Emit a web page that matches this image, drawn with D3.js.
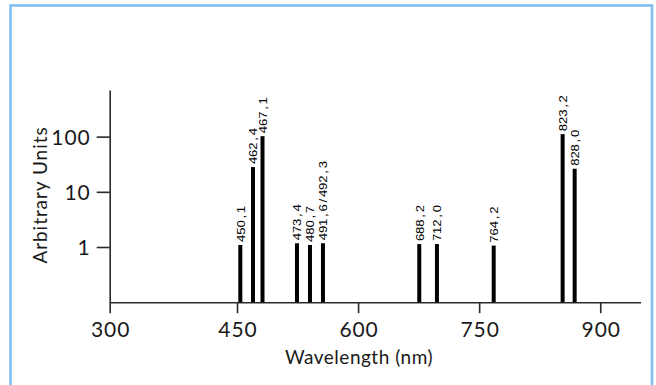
<!DOCTYPE html>
<html><head><meta charset="utf-8">
<script src="https://cdn.jsdelivr.net/npm/d3@7"></script>
<style>
html,body{margin:0;padding:0;background:#fff;}
svg{display:block;}
</style></head>
<body>
<svg id="chart" width="656" height="385"></svg>
<script>
// ---- data ----
const lineLabels = ["450,1","462,4","467,1","473,4","480,7","491,6/492,3","688,2","712,0","764,2","823,2","828,0"];
const plotPositions = [454.1,469.8,481.6,524.3,540.4,556.5,675.8,697.7,768.0,853.4,868.3];
const intensities = [1.09,28.1,102,1.17,1.09,1.17,1.13,1.13,1.06,111,26.2];
const xTickValues = [300,450,600,750,900];
const yTickValues = [1,10,100];
const xTitle = "Wavelength (nm)";
const yTitle = "Arbitrary Units";

const svg = d3.select("#chart");
svg.append("rect").attr("x",0).attr("y",0).attr("width",656).attr("height",385).attr("fill","#fff");
svg.append("rect").attr("x",10.5).attr("y",5.5).attr("width",641.5).attr("height",420)
  .attr("fill","none").attr("stroke","#7dbdf0").attr("stroke-width",2.6);

const x = d3.scaleLinear().domain([300,450,950]).range([109.7,237,640.6]);
const y = d3.scaleLog().domain([0.1,700]).range([302.2,90]);

const axisColor = "#2a2a2a";
const tickFont = "Lato, 'Open Sans', sans-serif";

const gx = svg.append("g").attr("transform","translate(0,302.2)")
  .call(d3.axisBottom(x).tickValues(xTickValues).tickSize(11).tickSizeOuter(0).tickPadding(9).tickFormat(d3.format("d")));
const gy = svg.append("g").attr("transform","translate(109.7,0)")
  .call(d3.axisLeft(y).tickValues(yTickValues).tickSize(13).tickSizeOuter(0).tickPadding(7).tickFormat(d3.format("d")));
[gx,gy].forEach(g=>{
  g.select(".domain").attr("stroke",axisColor).attr("stroke-width",1.6);
  g.selectAll(".tick line").attr("stroke",axisColor).attr("stroke-width",1.6);
  g.selectAll(".tick text").attr("fill","#1a1a1a").style("font-family",tickFont)
    .style("font-size","21px").style("letter-spacing","0.9px");
});
gx.selectAll(".tick text").attr("dx","0.45px");
gy.selectAll(".tick text").attr("dy","0.36em").attr("dx","0.9px");

// bars
const barW = 4;
svg.append("g").selectAll("rect").data(intensities).join("rect")
  .attr("x",(d,i)=>x(plotPositions[i])-barW/2)
  .attr("y",d=>y(d))
  .attr("width",barW)
  .attr("height",d=>y(0.1)-y(d))
  .attr("fill","#000");

// bar labels (fixed-pitch cells, sans glyphs, slightly widened)
const stretch = 1.25;
const cell = 7.2 / stretch;
const lbl = svg.append("g").selectAll("text").data(intensities).join("text")
  .attr("transform",(d,i)=>`translate(${x(plotPositions[i])+4.3},${y(d)-3}) rotate(-90) scale(${stretch},1)`)
  .style("font-family","'Liberation Sans', Arial, sans-serif")
  .style("font-size","10.5px")
  .attr("fill","#000");
lbl.each(function(d,i){
  const t = d3.select(this);
  lineLabels[i].split("").forEach((ch,k)=>{
    t.append("tspan").attr("x",k*cell+cell/2).attr("y",0).attr("text-anchor","middle").text(ch);
  });
});

// axis titles
svg.append("text").attr("x",359).attr("y",364).attr("text-anchor","middle")
  .style("font-family",tickFont).style("font-size","19px").style("letter-spacing","0.5px")
  .attr("fill","#1a1a1a").text(xTitle);
svg.append("text").attr("transform","translate(47,195) rotate(-90)").attr("text-anchor","middle")
  .style("font-family",tickFont).style("font-size","19px").style("letter-spacing","0.95px")
  .attr("fill","#1a1a1a").text(yTitle);
</script>
</body></html>
